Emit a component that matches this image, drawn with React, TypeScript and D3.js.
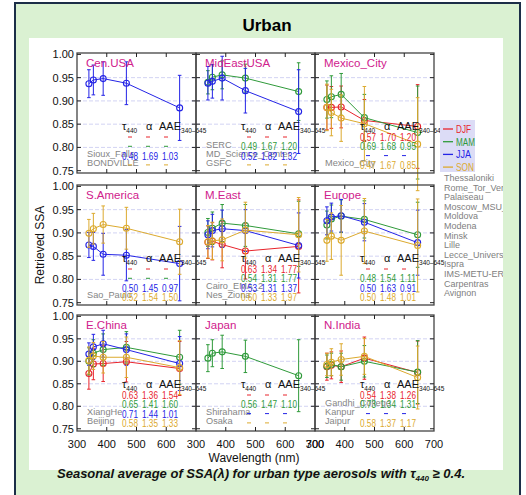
import React, { useRef, useEffect } from 'react';
import * as d3 from 'd3';

type S = number[] | null;

const wavelengths = [340, 355, 388, 466, 645];
const seasons = ['DJF', 'MAM', 'JJA', 'SON'];
const seasonColors = ['#e8242c', '#2f9a3a', '#2424e6', '#dcaa2e'];
const yTicks = [0.75, 0.8, 0.85, 0.9, 0.95, 1.0];

// one entry per season: DJF, MAM, JJA, SON
const cenUsaSsa: S[] = [null, null, [0.937, 0.945, 0.948, 0.938, 0.885], null];
const cenUsaErr: S[] = [null, null, [0.03, 0.032, 0.036, 0.046, 0.07], null];
const cenUsaStats: S[] = [null, null, [0.48, 1.69, 1.03], null];
const cenUsaSites = ['Sioux_Falls', 'BONDVILLE'];

const midEastUsaSsa: S[] = [null, [0.94, 0.951, 0.956, 0.949, 0.92], [0.938, 0.942, 0.949, 0.922, 0.877], null];
const midEastUsaErr: S[] = [null, [0.025, 0.027, 0.03, 0.03, 0.062], [0.036, 0.036, 0.047, 0.048, 0.09], null];
const midEastUsaStats: S[] = [null, [0.49, 1.67, 1.2], [0.52, 1.82, 1.32], null];
const midEastUsaSites = ['SERC', 'MD_Science_Center', 'GSFC'];

const mexicoSsa: S[] = [[0.886, 0.886, 0.887, 0.858, 0.845], [0.903, 0.909, 0.914, 0.864, 0.832], null, [0.886, 0.875, 0.863, 0.851, 0.807]];
const mexicoErr: S[] = [[0.048, 0.045, 0.045, 0.045, 0.09], [0.04, 0.045, 0.045, 0.05, 0.1], null, [0.05, 0.05, 0.05, 0.08, 0.1]];
const mexicoStats: S[] = [[0.57, 1.7, 1.2], [0.69, 1.68, 0.95], null, [0.47, 1.67, 0.85]];
const mexicoSites = ['Mexico_City'];

const sAmericaSsa: S[] = [null, null, [0.874, 0.871, 0.854, 0.852, 0.834], [0.899, 0.909, 0.918, 0.91, 0.881]];
const sAmericaErr: S[] = [null, null, [0.027, 0.03, 0.045, 0.055, 0.08], [0.03, 0.033, 0.04, 0.045, 0.07]];
const sAmericaStats: S[] = [null, null, [0.5, 1.45, 0.97], [0.52, 1.54, 1.5]];
const sAmericaSites = ['Sao_Paulo'];

const mEastSsa: S[] = [[0.88, 0.882, 0.875, 0.861, 0.871], [0.901, 0.91, 0.921, 0.916, 0.898], [0.896, 0.905, 0.909, 0.905, 0.873], [0.881, 0.883, 0.885, 0.906, 0.896]];
const mEastErr: S[] = [[0.035, 0.04, 0.05, 0.06, 0.1], [0.03, 0.035, 0.04, 0.045, 0.07], [0.03, 0.035, 0.04, 0.045, 0.07], [0.035, 0.04, 0.045, 0.06, 0.08]];
const mEastStats: S[] = [[0.63, 1.34, 1.77], [0.54, 1.31, 1.77], [0.53, 1.31, 1.37], [0.6, 1.33, 1.97]];
const mEastSites = ['Cairo_EMA_2', 'Nes_Ziona'];

const europeSsa: S[] = [null, [0.917, 0.93, 0.936, 0.929, 0.896], [0.926, 0.934, 0.937, 0.923, 0.879], [0.884, 0.893, 0.884, 0.904, 0.873]];
const europeErr: S[] = [null, [0.03, 0.03, 0.035, 0.04, 0.07], [0.03, 0.03, 0.035, 0.04, 0.07], [0.045, 0.05, 0.075, 0.07, 0.1]];
const europeStats: S[] = [null, [0.48, 1.54, 1.11], [0.5, 1.63, 0.91], [0.5, 1.48, 1.01]];
const europeSites = ['Thessaloniki', 'Rome_Tor_Vergata', 'Palaiseau', 'Moscow_MSU_MO', 'Moldova', 'Modena', 'Minsk', 'Lille', 'Lecce_University', 'Ispra', 'IMS-METU-ERDEMLI', 'Carpentras', 'Avignon'];

const eChinaSsa: S[] = [[0.873, 0.894, 0.895, 0.899, 0.884], [0.9, 0.918, 0.926, 0.931, 0.909], [0.916, 0.932, 0.939, 0.926, 0.895], [0.902, 0.912, 0.909, 0.909, 0.886]];
const eChinaErr: S[] = [[0.035, 0.035, 0.04, 0.045, 0.06], [0.03, 0.03, 0.035, 0.035, 0.06], [0.025, 0.028, 0.03, 0.035, 0.06], [0.03, 0.03, 0.035, 0.045, 0.06]];
const eChinaStats: S[] = [[0.63, 1.36, 1.54], [0.65, 1.41, 1.6], [0.71, 1.44, 1.01], [0.58, 1.35, 1.33]];
const eChinaSites = ['XiangHe', 'Beijing'];

const japanSsa: S[] = [null, [0.907, 0.918, 0.921, 0.911, 0.868], null, null];
const japanErr: S[] = [null, [0.03, 0.03, 0.037, 0.036, 0.08], null, null];
const japanStats: S[] = [null, [0.56, 1.47, 1.1], null, null];
const japanSites = ['Shirahama', 'Osaka'];

const nIndiaSsa: S[] = [[0.888, 0.891, 0.888, 0.907, 0.875], [0.889, 0.893, 0.888, 0.9, 0.876], null, [0.893, 0.898, 0.904, 0.911, 0.864]];
const nIndiaErr: S[] = [[0.03, 0.03, 0.035, 0.047, 0.07], [0.025, 0.025, 0.03, 0.035, 0.07], null, [0.025, 0.03, 0.035, 0.04, 0.07]];
const nIndiaStats: S[] = [[0.54, 1.38, 1.26], [0.73, 1.34, 1.31], null, [0.58, 1.37, 1.17]];
const nIndiaSites = ['Gandhi_College', 'Kanpur', 'Jaipur'];

const regions = ['Cen.USA', 'MidEastUSA', 'Mexico_City', 'S.America', 'M.East', 'Europe', 'E.China', 'Japan', 'N.India'];

const panels = [
  { ssa: cenUsaSsa, err: cenUsaErr, stats: cenUsaStats, sites: cenUsaSites },
  { ssa: midEastUsaSsa, err: midEastUsaErr, stats: midEastUsaStats, sites: midEastUsaSites },
  { ssa: mexicoSsa, err: mexicoErr, stats: mexicoStats, sites: mexicoSites },
  { ssa: sAmericaSsa, err: sAmericaErr, stats: sAmericaStats, sites: sAmericaSites },
  { ssa: mEastSsa, err: mEastErr, stats: mEastStats, sites: mEastSites },
  { ssa: europeSsa, err: europeErr, stats: europeStats, sites: [] as string[] },
  { ssa: eChinaSsa, err: eChinaErr, stats: eChinaStats, sites: eChinaSites },
  { ssa: japanSsa, err: japanErr, stats: japanStats, sites: japanSites },
  { ssa: nIndiaSsa, err: nIndiaErr, stats: nIndiaStats, sites: nIndiaSites },
];

const W = 526;
const H = 495;
const FONT = '"Liberation Sans", Arial, Helvetica, sans-serif';

export default function App() {
  const svgRef = useRef<SVGSVGElement | null>(null);

  useEffect(() => {
    if (!svgRef.current) return;
    const svg = d3.select(svgRef.current);
    svg.selectAll('*').remove();

    // frame
    svg.append('rect').attr('x', 15).attr('y', 3).attr('width', 505).attr('height', 520)
      .attr('fill', '#daf1d2').attr('stroke', '#1c2e48').attr('stroke-width', 2);
    svg.append('rect').attr('x', 29).attr('y', 38).attr('width', 474).attr('height', 432).attr('fill', '#fff');
    svg.append('text').attr('x', 267).attr('y', 31).attr('text-anchor', 'middle')
      .attr('font-family', FONT).attr('font-weight', 'bold').attr('font-size', 17).text('Urban');

    const defs = svg.append('defs');
    defs.append('clipPath').attr('id', 'inner').append('rect')
      .attr('x', 29).attr('y', 38).attr('width', 474).attr('height', 432);
    const root = svg.append('g').attr('clip-path', 'url(#inner)');

    const colLeft = [77, 196, 315];
    const colW = 119;
    const rowTop = [53, 185, 315];
    const rowBottom = [173, 305, 431];

    panels.forEach((p, i) => {
      const col = i % 3;
      const row = Math.floor(i / 3);
      const left = colLeft[col];
      const right = left + colW;
      const top = rowTop[row];
      const bottom = rowBottom[row];
      const x = d3.scaleLinear().domain([300, 700]).range([left, right]);
      const y = d3.scaleLinear().domain([0.745, 1.003]).range([bottom, top]);
      const g = root.append('g');

      // dashed grid
      g.selectAll('line.grid').data(yTicks.slice(1, 5)).join('line')
        .attr('x1', left).attr('x2', right).attr('y1', d => y(d)).attr('y2', d => y(d))
        .attr('stroke', '#d2d3f3').attr('stroke-dasharray', '4,2').attr('stroke-width', 1);

      // series
      p.ssa.forEach((vals, s) => {
        if (!vals) return;
        const errs = p.err[s] as number[];
        const color = seasonColors[s];
        const pts = vals.map((v, k) => ({ w: wavelengths[k], v, e: errs[k] }));
        const sg = g.append('g');
        sg.selectAll('line.eb').data(pts).join('line')
          .attr('x1', d => x(d.w)).attr('x2', d => x(d.w))
          .attr('y1', d => y(d.v - d.e)).attr('y2', d => y(d.v + d.e))
          .attr('stroke', color).attr('stroke-width', 1);
        [-1, 1].forEach(sign => {
          sg.append('g').selectAll('line').data(pts).join('line')
            .attr('x1', d => x(d.w) - 1.8).attr('x2', d => x(d.w) + 1.8)
            .attr('y1', d => y(d.v + sign * d.e)).attr('y2', d => y(d.v + sign * d.e))
            .attr('stroke', color).attr('stroke-width', 1);
        });
        const line = d3.line<{ w: number; v: number }>().x(d => x(d.w)).y(d => y(d.v));
        sg.append('path').attr('d', line(pts) as string).attr('fill', 'none')
          .attr('stroke', color).attr('stroke-width', 1);
        sg.selectAll('circle').data(pts).join('circle')
          .attr('cx', d => x(d.w)).attr('cy', d => y(d.v)).attr('r', 3)
          .attr('fill', 'none').attr('stroke', color).attr('stroke-width', 1.1);
      });

      // panel box and ticks
      g.append('rect').attr('x', left).attr('y', top).attr('width', colW).attr('height', bottom - top)
        .attr('fill', 'none').attr('stroke', '#444').attr('stroke-width', 1.3);
      yTicks.forEach(t => {
        g.append('line').attr('x1', left).attr('x2', left + 4).attr('y1', y(t)).attr('y2', y(t)).attr('stroke', '#222');
        g.append('line').attr('x1', right - 4).attr('x2', right).attr('y1', y(t)).attr('y2', y(t)).attr('stroke', '#222');
      });
      [400, 500, 600].forEach(t => {
        g.append('line').attr('x1', x(t)).attr('x2', x(t)).attr('y1', top).attr('y2', top + 4).attr('stroke', '#222');
        g.append('line').attr('x1', x(t)).attr('x2', x(t)).attr('y1', bottom - 4).attr('y2', bottom).attr('stroke', '#222');
      });

      // site names
      p.sites.forEach((name, k) => {
        g.append('text').attr('x', left + 10).attr('y', bottom - 7 - (p.sites.length - 1 - k) * 9)
          .attr('font-family', FONT).attr('font-size', 9.2).attr('fill', '#858585').text(name);
      });

      // stats block
      const hdr = g.append('text').attr('y', bottom - 43).attr('font-family', FONT).attr('font-size', 11).attr('fill', '#111');
      hdr.append('tspan').attr('x', left + 45).text('τ');
      hdr.append('tspan').attr('font-size', 6.5).attr('dy', 3).text('440');
      hdr.append('tspan').attr('x', left + 69).attr('dy', -3).text('α');
      hdr.append('tspan').attr('x', left + 82).text('AAE');
      hdr.append('tspan').attr('font-size', 6.5).attr('dy', 3).text('340–645');
      p.stats.forEach((st, s) => {
        const by = bottom - 32 + s * 9.3;
        const color = seasonColors[s];
        if (!st) {
          [53, 71, 89].forEach(cx => {
            g.append('line').attr('x1', left + cx - 2).attr('x2', left + cx + 2)
              .attr('y1', by - 4).attr('y2', by - 4).attr('stroke', color).attr('stroke-width', 1);
          });
          return;
        }
        st.forEach((v, k) => {
          g.append('text').attr('x', left + 45 + k * 20).attr('y', by)
            .attr('textLength', 16).attr('lengthAdjust', 'spacingAndGlyphs')
            .attr('font-family', FONT).attr('font-size', 10.5).attr('fill', color).text(v.toFixed(2));
        });
      });

      // region title
      g.append('text').attr('x', left + 9).attr('y', top + 14).attr('font-family', FONT)
        .attr('font-size', 11.5).attr('fill', '#d0208c').text(regions[i]);

      // axis labels
      if (col === 0) {
        yTicks.forEach(t => {
          g.append('text').attr('x', left - 3).attr('y', y(t) + 4).attr('text-anchor', 'end')
            .attr('font-family', FONT).attr('font-size', 11).attr('fill', '#111').text(t.toFixed(2));
        });
      }
      if (row === 2) {
        const xt = col === 0 ? [300, 400, 500, 600] : [300, 400, 500, 600, 700];
        xt.forEach(t => {
          g.append('text').attr('x', x(t)).attr('y', 448).attr('text-anchor', 'middle')
            .attr('font-family', FONT).attr('font-size', 11).attr('fill', '#111').text(String(t));
        });
      }
    });

    // legend
    root.append('rect').attr('x', 440).attr('y', 120).attr('width', 35).attr('height', 52).attr('fill', '#dcdcf6');
    const legendLen = [15, 19, 15, 18];
    seasons.forEach((s, i) => {
      const ly = 129 + i * 12.7;
      root.append('line').attr('x1', 443).attr('x2', 453).attr('y1', ly).attr('y2', ly)
        .attr('stroke', seasonColors[i]).attr('stroke-width', 1.3);
      root.append('text').attr('x', 456).attr('y', ly + 4).attr('font-family', FONT)
        .attr('textLength', legendLen[i]).attr('lengthAdjust', 'spacingAndGlyphs')
        .attr('font-size', 10.5).attr('fill', seasonColors[i]).text(s);
    });

    // Europe site list outside the panels
    europeSites.forEach((name, k) => {
      root.append('text').attr('x', 444).attr('y', 181 + k * 9.6).attr('font-family', FONT)
        .attr('font-size', 9).attr('fill', '#808080').text(name);
    });

    root.append('text').attr('transform', 'translate(44,245) rotate(-90)').attr('text-anchor', 'middle')
      .attr('font-family', FONT).attr('font-size', 12).attr('fill', '#111').text('Retrieved SSA');
    root.append('text').attr('x', 254).attr('y', 462).attr('text-anchor', 'middle')
      .attr('font-family', FONT).attr('font-size', 12).attr('fill', '#111').text('Wavelength (nm)');

    // caption
    const cap = svg.append('text').attr('x', 261).attr('y', 478).attr('text-anchor', 'middle')
      .attr('font-family', FONT).attr('font-size', 13).attr('font-weight', 'bold').attr('font-style', 'italic').attr('fill', '#111');
    cap.append('tspan').text('Seasonal average of SSA(λ) for urban type aerosols with τ');
    cap.append('tspan').attr('font-size', 8).attr('dy', 3).text('440');
    cap.append('tspan').attr('dy', -3).text(' ≥ 0.4.');
  }, []);

  return (
    <svg ref={svgRef} width={W} height={H} style={{ position: 'absolute', left: 0, top: 0 }} />
  );
}
